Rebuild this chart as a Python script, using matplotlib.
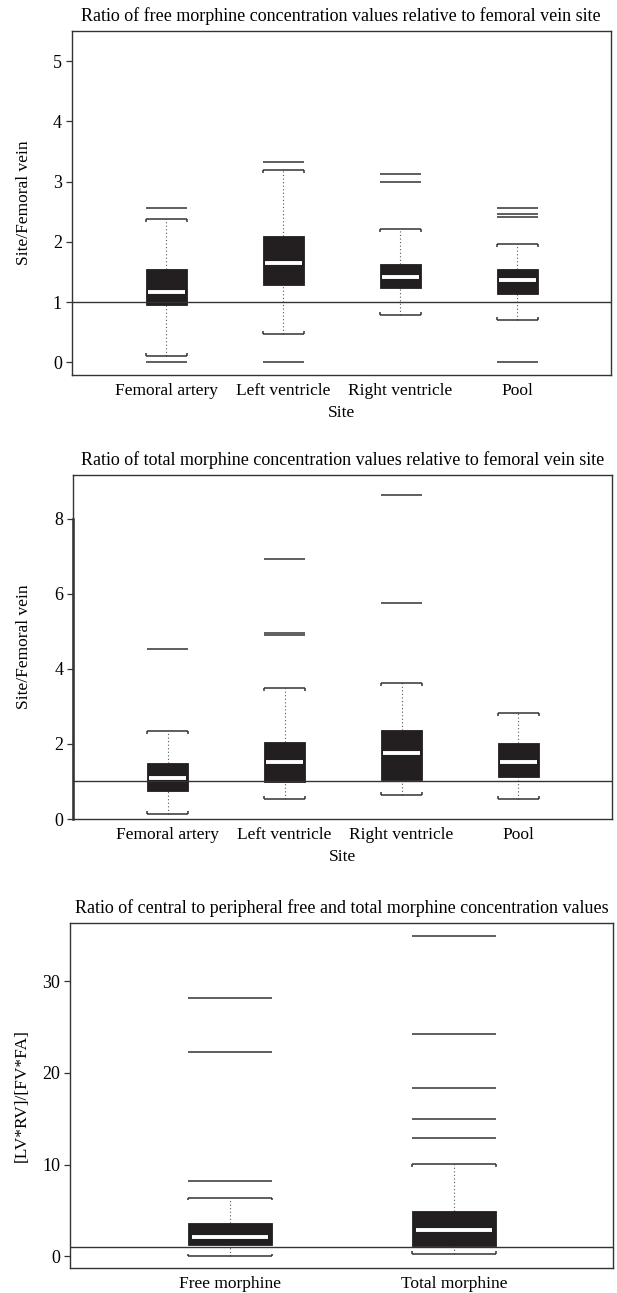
import matplotlib
matplotlib.use("Agg")
import matplotlib.pyplot as plt
from matplotlib.patches import Rectangle

plt.rcParams['font.family'] = ['Liberation Serif', 'DejaVu Serif']

# ---------------- data ----------------
sites = ["Femoral artery", "Left ventricle", "Right ventricle", "Pool"]

# Panel 1: free morphine ratio
free_q1 = [0.95, 1.28, 1.23, 1.13]
free_med = [1.17, 1.65, 1.42, 1.36]
free_q3 = [1.55, 2.09, 1.63, 1.55]
free_lo = [0.10, 0.47, 0.79, 0.71]
free_hi = [2.38, 3.20, 2.22, 1.97]
free_out = [[2.57, 0.0], [3.33, 0.0], [3.13, 2.99], [2.57, 2.47, 2.41, 0.0]]

# Panel 2: total morphine ratio
tot_q1 = [0.75, 0.98, 1.03, 1.11]
tot_med = [1.10, 1.53, 1.75, 1.53]
tot_q3 = [1.50, 2.05, 2.36, 2.02]
tot_lo = [0.13, 0.53, 0.65, 0.53]
tot_hi = [2.35, 3.50, 3.62, 2.82]
tot_out = [[4.52], [6.92, 4.96, 4.91], [8.62, 5.76], []]

# Panel 3: central / peripheral
groups = ["Free morphine", "Total morphine"]
cp_q1 = [1.2, 1.1]
cp_med = [2.1, 2.85]
cp_q3 = [3.65, 5.0]
cp_lo = [0.0, 0.3]
cp_hi = [6.4, 10.05]
cp_out = [[28.2, 22.3, 8.25], [34.95, 24.2, 18.35, 14.95, 12.95]]

ref_value = 1.0

BOX = "#231f20"
LINE = "#333333"
W, H = 617, 1293
fig = plt.figure(figsize=(W / 100, H / 100), dpi=100)


def axes_px(left, top, right, bottom):
    ax = fig.add_axes([left / W, 1 - bottom / H, (right - left) / W, (bottom - top) / H])
    ax._px = (left, right)
    return ax


def draw_box(ax, pos, q1, med, q3, lo, hi, fliers, w, d):
    ax.add_patch(Rectangle((pos - w / 2, q1), w, q3 - q1, facecolor=BOX,
                           edgecolor=BOX, lw=0.6, zorder=3))
    ax.hlines(med, pos - w / 2 * 0.9, pos + w / 2 * 0.9, color="white", lw=2.8, zorder=4)
    ax.vlines(pos, q3, hi, color="#555555", lw=0.8, linestyles=(0, (1, 2.2)), zorder=2)
    ax.vlines(pos, lo, q1, color="#555555", lw=0.8, linestyles=(0, (1, 2.2)), zorder=2)
    ax.hlines([lo, hi], pos - w / 2, pos + w / 2, color=LINE, lw=1.1, zorder=3)
    for x in (pos - w / 2, pos + w / 2):
        ax.vlines(x, hi - d, hi, color=LINE, lw=1.1, zorder=3)
        ax.vlines(x, lo, lo + d, color=LINE, lw=1.1, zorder=3)
    if fliers:
        ax.hlines(fliers, pos - w / 2, pos + w / 2, color=LINE, lw=1.1, zorder=3)


def style(ax, title, ylabel, label_x_px, xlabel=None):
    for s in ax.spines.values():
        s.set_color(LINE)
        s.set_linewidth(1.0)
    ax.tick_params(axis="y", direction="out", length=4, width=0.9, color=LINE,
                   labelsize=13, pad=3)
    ax.tick_params(axis="x", length=0, labelsize=12.5, pad=6)
    ax.set_title(title, fontsize=13, pad=7)
    ax.set_ylabel(ylabel, fontsize=12.5)
    left, right = ax._px
    ax.yaxis.set_label_coords((label_x_px - left) / (right - left), 0.5)
    if xlabel:
        ax.set_xlabel(xlabel, fontsize=12.5, labelpad=4)


def panel(ax, labels, q1, med, q3, lo, hi, out, w, ylim, yticks, d):
    pos = list(range(1, len(labels) + 1))
    for i, p in enumerate(pos):
        draw_box(ax, p, q1[i], med[i], q3[i], lo[i], hi[i], out[i], w, d)
    ax.axhline(ref_value, color=LINE, lw=1.0, zorder=5)
    ax.set_ylim(*ylim)
    ax.set_yticks(yticks)
    ax.set_xticks(pos)
    ax.set_xticklabels(labels)


# Panel 1
ax1 = axes_px(71.5, 31, 611, 375)
panel(ax1, sites, free_q1, free_med, free_q3, free_lo, free_hi, free_out,
      0.35, (-0.21, 5.5), [0, 1, 2, 3, 4, 5], 0.05)
ax1.set_xlim(0.19, 4.80)
style(ax1, "Ratio of free morphine concentration values relative to femoral vein site",
      "Site/Femoral vein", 32, "Site")

# Panel 2
ax2 = axes_px(73, 475, 612, 819)
panel(ax2, sites, tot_q1, tot_med, tot_q3, tot_lo, tot_hi, tot_out,
      0.35, (0, 9.16), [0, 2, 4, 6, 8], 0.08)
ax2.set_xlim(0.19, 4.80)
style(ax2, "Ratio of total morphine concentration values relative to femoral vein site",
      "Site/Femoral vein", 32, "Site")
ax2.plot([0.19, 0.19], [0, 8], color=LINE, lw=1.8, clip_on=False, zorder=6)

# Panel 3
ax3 = axes_px(70, 923, 613, 1268)
panel(ax3, groups, cp_q1, cp_med, cp_q3, cp_lo, cp_hi, cp_out,
      0.375, (-1.27, 36.36), [0, 10, 20, 30], 0.3)
ax3.set_xlim(0.286, 2.71)
style(ax3, "Ratio of central to peripheral free and total morphine concentration values",
      "[LV*RV]/[FV*FA]", 30)

fig.savefig("out.png", dpi=100)
